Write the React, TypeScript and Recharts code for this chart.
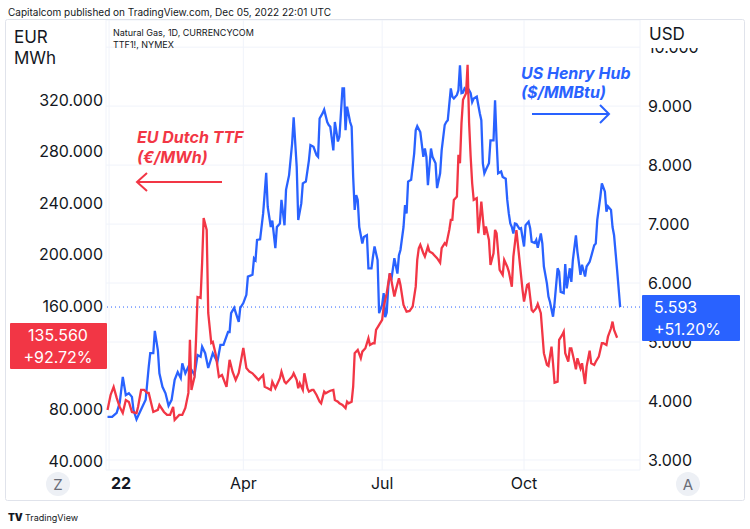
import React from "react";
import { LineChart, Line, XAxis, YAxis, CartesianGrid, ReferenceLine } from "recharts";

// Day of year 2022 (0 = Jan 1) and values
const hhDays = [1,4,7,9,11,13,15,17,18,20,22,26,28,29,31,32,34,35,37,39,41,43,45,47,49,50,52,54,56,58,60,62,63,65,67,70,73,75,77,80,81,82,84,87,88,90,92,93,96,97,98,99,101,103,104,105,106,108,109,111,112,114,115,117,118,120,122,123,125,126,128,129,131,133,134,136,138,139,140,142,143,145,146,147,149,150,152,153,155,156,157,158,160,161,162,163,164,165,166,168,169,171,172,174,175,176,178,179,181,182,183,184,185,186,187,189,191,192,193,195,196,197,198,200,202,203,204,206,208,209,210,211,213,214,216,217,219,220,222,223,224,226,227,228,230,231,232,233,234,235,237,238,239,240,241,243,245,246,247,248,249,251,252,254,255,256,257,259,260,262,263,264,265,266,267,268,269,271,272,274,275,277,278,279,281,282,283,285,286,287,289,290,291,293,294,296,297,298,300,301,302,304,305,306,308,309,311,312,314,315,317,318,320,321,322,324,325,327,328,329,331,332,333,335,337];
const hhValues = [3.73,3.73,3.80,3.97,4.41,4.10,4.13,4.07,3.85,3.69,3.80,4.02,4.58,4.81,4.81,5.19,4.86,4.47,4.24,4.13,3.92,4.02,4.36,4.49,4.39,4.64,4.47,4.58,4.53,4.44,4.78,4.75,4.92,4.81,4.56,4.81,4.66,4.95,4.95,5.17,5.17,5.49,5.58,5.34,5.58,5.66,5.80,6.11,6.14,6.42,6.39,6.73,6.74,7.18,7.52,7.87,7.29,6.95,7.06,6.59,6.95,7.01,7.41,6.98,7.58,7.83,8.37,8.81,7.97,7.07,7.35,7.69,7.72,8.08,8.34,8.31,8.17,8.14,8.79,8.88,8.94,8.73,8.68,8.65,8.25,8.73,8.40,8.48,9.30,9.30,8.59,8.99,8.73,8.65,7.80,7.24,7.49,7.41,6.95,6.67,6.78,6.81,6.25,6.25,6.45,6.62,6.39,5.49,5.63,5.83,5.42,5.50,5.94,6.16,6.05,6.42,6.16,6.47,6.56,6.95,7.32,7.18,7.72,7.75,8.20,8.59,8.66,8.56,8.14,8.28,8.14,7.66,8.28,8.14,8.03,7.61,7.86,8.25,8.68,8.73,8.76,9.30,9.16,9.13,9.19,9.27,9.69,9.22,9.23,9.30,9.24,9.27,9.22,9.07,9.13,9.16,8.88,8.76,8.03,7.86,7.92,8.03,8.42,8.42,9.10,8.42,7.86,7.89,7.80,7.77,7.41,7.18,7.01,6.95,6.84,7.01,7.00,6.92,6.93,6.62,6.98,7.04,6.93,6.70,6.68,6.73,6.60,6.84,6.67,6.28,5.99,5.77,5.68,5.43,5.66,6.25,6.19,5.85,5.83,6.32,5.91,6.25,6.02,6.39,6.81,6.53,6.14,6.31,6.11,6.28,6.36,6.45,6.64,6.67,7.07,7.46,7.69,7.55,7.21,7.30,7.24,6.95,6.81,6.22,5.593];

const ttfDays = [1,3,5,7,9,11,13,15,17,20,21,23,25,27,28,31,34,35,38,40,42,44,45,48,50,52,54,55,56,58,59,60,62,63,64,66,67,69,70,72,74,76,79,81,83,85,87,90,92,94,96,98,100,101,103,104,106,108,109,111,112,114,115,117,118,120,122,123,125,126,127,129,130,132,133,135,136,138,140,141,143,144,146,147,149,150,152,153,155,157,158,159,161,162,163,165,167,168,170,172,173,175,176,177,179,181,182,184,186,187,189,190,192,193,195,197,199,201,203,204,205,206,208,209,211,212,214,215,217,219,220,222,223,225,226,227,228,230,231,232,233,234,236,237,238,239,240,241,243,244,245,246,248,249,251,252,254,255,256,258,260,261,263,264,266,267,269,271,273,274,276,277,279,280,282,283,285,286,287,289,290,292,293,294,296,297,299,300,301,303,304,305,307,308,309,311,312,314,315,317,318,320,321,323,325,326,328,329,331,332,333,335];
const ttfValues = [79.6,91.2,97.4,88.9,81.9,77.2,87.3,85.8,78.0,77.2,81.9,95.1,95.1,92.8,92.8,78.0,79.6,83.4,78.0,75.7,75.7,81.9,71.8,75.7,75.7,81.1,92.8,133.9,95.1,105.2,133.9,167.2,166.4,193.6,228.5,219.2,154.8,131.5,132.3,122.2,105.2,106.7,97.4,118.4,109.0,102.8,108.3,127.7,112.1,109.3,108.0,105.4,102.8,104.2,106.7,97.6,96.4,95.1,101.5,96.4,99.0,104.2,109.3,101.5,100.3,102.8,105.4,108.0,102.8,96.4,100.3,95.1,108.0,96.4,93.8,95.1,95.1,91.2,86.0,84.7,93.8,92.5,93.8,94.5,95.1,87.3,86.0,84.7,83.4,80.9,86.0,84.7,86.0,97.6,123.6,126.1,119.7,124.8,127.4,135.2,130.0,131.3,131.3,141.6,145.5,149.4,159.7,170.1,185.6,180.4,167.5,172.7,181.7,176.5,161.0,155.8,156.4,159.7,175.2,195.9,205.0,207.6,201.1,198.5,206.3,202.4,201.1,199.8,197.3,193.8,205.0,208.9,207.6,219.2,227.0,227.0,242.5,245.0,277.4,270.9,302.0,320.1,325.3,347.2,302.0,276.1,255.4,242.5,243.8,216.6,227.0,241.2,215.3,221.8,211.4,192.1,201.1,219.2,216.6,188.2,184.3,195.9,190.7,186.9,175.2,198.5,219.0,196.0,172.7,163.6,176.5,177.3,157.1,155.8,158.5,161.8,154.6,139.1,123.6,114.5,113.7,128.7,115.8,100.7,101.5,133.9,137.8,140.3,123.6,117.0,127.4,127.4,117.0,111.1,119.7,111.9,115.8,99.7,113.2,125.6,115.8,114.5,117.0,120.9,131.3,131.3,130.0,136.4,142.9,148.1,141.6,135.6];

const xTicks = [2, 90, 181, 274];
const xTickLabels = ["22", "Apr", "Jul", "Oct"];
const leftTicks = [40, 80, 160, 200, 240, 280, 320];
const rightTicks = [3, 4, 5, 6, 7, 8, 9, 10];

const hhData = hhDays.map((d, i) => ({ day: d, value: hhValues[i] }));
const ttfData = ttfDays.map((d, i) => ({ day: d, value: ttfValues[i] }));

const BLUE = "#2962FF";
const RED = "#F23645";
const TEXT = "#131722";
const FONT = "Inter, Roboto, 'Liberation Sans', sans-serif";

const XTick = (props: any) => {
  const { x, y, payload, index } = props;
  const i = xTicks.indexOf(payload.value);
  const label = xTickLabels[i >= 0 ? i : index] ?? "";
  const first = label === "22";
  return (
    <text
      x={x + (first ? 12 : 0)}
      y={y}
      dy="0.71em"
      textAnchor="middle"
      fontSize={16}
      fontFamily={FONT}
      fontWeight={first ? 700 : 400}
      fill={TEXT}
    >
      {label}
    </text>
  );
};

export default function App() {
  return (
    <div style={{ position: "absolute", left: 0, top: 0, width: 750, height: 529, background: "#fff", fontFamily: FONT }}>
      <LineChart width={750} height={529} margin={{ top: 20, right: 0, bottom: 29, left: 0 }}>
        <CartesianGrid yAxisId="right" xAxisId="x" stroke="#f0f3fa" strokeWidth={1} />
        <XAxis
          xAxisId="x"
          dataKey="day"
          type="number"
          domain={[0, 350]}
          ticks={xTicks}
          allowDataOverflow
          axisLine={false}
          tickLine={false}
          height={30}
          tick={<XTick />}
        />
        <YAxis
          yAxisId="left"
          orientation="left"
          type="number"
          domain={[33, 382]}
          ticks={leftTicks}
          allowDataOverflow
          width={106}
          axisLine={false}
          tickLine={false}
          tick={{ fontSize: 16, fill: TEXT, fontFamily: FONT, dx: 5 }}
          tickFormatter={(v: number) => v.toFixed(3)}
        />
        <YAxis
          yAxisId="right"
          orientation="right"
          type="number"
          domain={[2.83, 10.46]}
          ticks={rightTicks}
          allowDataOverflow
          width={110}
          axisLine={false}
          tickLine={false}
          tick={{ fontSize: 16, fill: TEXT, fontFamily: FONT, textAnchor: "start" }}
          tickFormatter={(v: number) => v.toFixed(3)}
        />
        <ReferenceLine xAxisId="x" yAxisId="right" y={5.593} stroke={BLUE} strokeDasharray="1 3" strokeWidth={1} />
        <Line
          xAxisId="x"
          yAxisId="right"
          data={hhData}
          dataKey="value"
          type="linear"
          stroke={BLUE}
          strokeWidth={2.3}
          dot={false}
          activeDot={false}
          isAnimationActive={false}
        />
        <Line
          xAxisId="x"
          yAxisId="left"
          data={ttfData}
          dataKey="value"
          type="linear"
          stroke={RED}
          strokeWidth={2.3}
          dot={false}
          activeDot={false}
          isAnimationActive={false}
        />
      </LineChart>
      <svg width={750} height={529} style={{ position: "absolute", left: 0, top: 0, pointerEvents: "none" }} fontFamily={FONT}>
        <rect x={5.5} y={19.5} width={739} height={481} fill="none" stroke="#e0e3eb" rx={2} />
        <text x={8} y={16} fontSize={10} fill={TEXT}>Capitalcom published on TradingView.com, Dec 05, 2022 22:01 UTC</text>
        <rect x={10} y={24} width={80} height={46} fill="#fff" />
        <text x={14} y={43} fontSize={17} fill={TEXT}>EUR</text>
        <text x={14} y={64} fontSize={17} fill={TEXT}>MWh</text>
        <text x={113} y={36} fontSize={9} fill={TEXT}>Natural Gas, 1D, CURRENCYCOM</text>
        <text x={113} y={48} fontSize={9} fill={TEXT}>TTF1!, NYMEX</text>
        <rect x={645} y={21} width={95} height={27} fill="#fff" />
        <text x={649} y={40} fontSize={17} fill={TEXT}>USD</text>

        <text x={137} y={143} fontSize={16} fontWeight={700} fontStyle="italic" fill={RED}>EU Dutch TTF</text>
        <text x={137} y={163} fontSize={16} fontWeight={700} fontStyle="italic" fill={RED}>(€/MWh)</text>
        <line x1={137} y1={182} x2={222} y2={182} stroke={RED} strokeWidth={2} />
        <polyline points="147,173 137,182 147,191" fill="none" stroke={RED} strokeWidth={2} />

        <text x={521} y={79} fontSize={16} fontWeight={700} fontStyle="italic" fill={BLUE}>US Henry Hub</text>
        <text x={521} y={98} fontSize={16} fontWeight={700} fontStyle="italic" fill={BLUE}>($/MMBtu)</text>
        <line x1={532} y1={114} x2={609} y2={114} stroke={BLUE} strokeWidth={2} />
        <polyline points="600,105 609,114 600,123" fill="none" stroke={BLUE} strokeWidth={2} />

        <rect x={10} y={323} width={97} height={46} fill={RED} rx={1} />
        <text x={58} y={341} fontSize={16} fill="#fff" textAnchor="middle">135.560</text>
        <text x={58} y={363} fontSize={16} fill="#fff" textAnchor="middle">+92.72%</text>

        <rect x={642} y={295} width={98} height={46} fill={BLUE} rx={1} />
        <text x={654} y={313} fontSize={16} fill="#fff">5.593</text>
        <text x={654} y={335} fontSize={16} fill="#fff">+51.20%</text>

        <circle cx={58} cy={484} r={12} fill="#edf0f5" />
        <text x={58} y={490} fontSize={15} fill="#6a6d78" textAnchor="middle">Z</text>
        <circle cx={688} cy={484} r={12} fill="#edf0f5" />
        <text x={688} y={490} fontSize={15} fill="#6a6d78" textAnchor="middle">A</text>

        <text x={8} y={521} fontSize={10} fontWeight={900} fill={TEXT}>TV</text>
        <text x={25} y={521} fontSize={9} fill={TEXT}>TradingView</text>
      </svg>
    </div>
  );
}
